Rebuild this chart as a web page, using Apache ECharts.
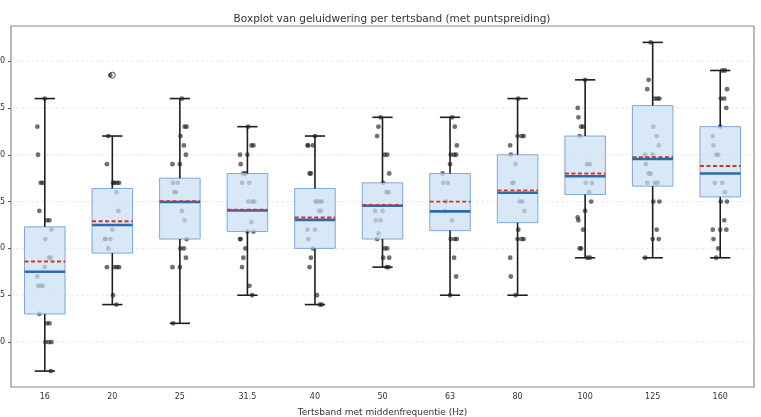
<!DOCTYPE html>
<html><head><meta charset="utf-8">
<script src="https://cdn.jsdelivr.net/npm/echarts@6/dist/echarts.min.js"></script>
<style>html,body{margin:0;padding:0;background:#fff}#c{width:761px;height:417px}</style>
</head><body><div id="c"></div>
<script>
// ---- data ----
const categories = ['16','20','25','31.5','40','50','63','80','100','125','160'];
const whiskerLow  = [6.9, 14.0, 12.0, 15.0, 14.0, 18.0, 15.0, 15.0, 19.0, 19.0, 19.0];
const quartile1   = [13.0, 19.5, 21.0, 21.8, 20.0, 21.0, 21.9, 22.75, 25.75, 26.65, 25.5];
const medians     = [17.5, 22.5, 24.95, 24.05, 23.05, 24.55, 23.95, 25.95, 27.7, 29.55, 28.0];
const quartile3   = [22.3, 26.4, 27.5, 28.0, 26.4, 27.0, 28.0, 30.0, 32.0, 35.25, 33.0];
const whiskerHigh = [36.0, 32.0, 36.0, 33.0, 32.0, 34.0, 34.0, 36.0, 38.0, 42.0, 39.0];
const means       = [18.6, 22.9, 25.05, 24.15, 23.3, 24.65, 25.0, 26.2, 28.0, 29.75, 28.8];
const outlierBand  = ['20'];
const outlierValue = [38.5];

const pts16  = [36, 33, 30, 27, 27, 24, 23, 23, 22, 21, 19, 19, 18, 17, 16, 16, 16, 13, 12, 12, 10, 10, 10, 6.9];
const pts20  = [38.5, 32, 29, 27, 27, 27, 27, 26, 24, 22, 21, 21, 21, 20, 18, 18, 18, 18, 15, 14];
const pts25  = [36, 33, 33, 32, 31, 30, 29, 29, 27, 27, 26, 26, 24, 23, 21, 20, 20, 19, 18, 18, 12];
const pts315 = [33, 31, 31, 30, 30, 29, 28, 28, 27, 27, 25, 25, 25, 22.8, 21.8, 21.8, 21, 21, 20, 19, 18, 16, 15];
const pts40  = [32, 31, 31, 31, 28, 28, 25, 25, 25, 25, 24, 24, 22, 22, 21, 20, 19, 18, 15, 14, 14];
const pts50  = [34, 33, 32, 30, 30, 28, 27, 26, 26, 24, 24, 23, 23, 21.6, 21, 20, 20, 19, 19, 18, 18];
const pts63  = [34, 33, 31, 30, 30, 30, 29, 28, 27, 27, 25, 24, 23, 21, 21, 21, 19, 17, 15];
const pts80  = [36, 32, 32, 32, 31, 30, 29, 27, 27, 25, 25, 24, 22, 21, 21, 21, 19, 17, 15];
const pts100 = [38, 35, 34, 33, 33, 32, 29, 29, 27, 27, 26, 25, 24, 23.3, 23, 22, 20, 20, 19, 19];
const pts125 = [42, 38, 37, 36, 36, 36, 33, 32, 31, 30, 30, 29, 28, 28, 27, 27, 27, 25, 25, 22, 21, 21, 19];
const pts160 = [39, 39, 37, 36, 36, 35, 33, 32, 31, 30, 30, 27, 27, 26, 25, 25, 23, 22, 22, 22, 21, 20, 19];
const pointsByBand = [pts16, pts20, pts25, pts315, pts40, pts50, pts63, pts80, pts100, pts125, pts160];

const yTicks = [10, 15, 20, 25, 30, 35, 40];
const yMin = 5.2, yMax = 43.75;

// ---- build ----
const jitter = [0, -0.08, 0.06, -0.03, 0.1, -0.11, 0.03, 0.09, -0.06, 0.01, -0.1, 0.07];
const pointData = [];
pointsByBand.forEach((arr, ci) => arr.forEach((v, k) => pointData.push([ci, v, k])));
const boxData = categories.map((c, i) => [i, whiskerLow[i], quartile1[i], medians[i], quartile3[i], whiskerHigh[i], means[i]]);
const outlierData = outlierBand.map((b, i) => [b, outlierValue[i]]);
const gridData = yTicks.map(v => [0, v]);

const chart = echarts.init(document.getElementById('c'), null, {renderer: 'canvas'});
const txt = '#333';
const WK = '#1e1e1e';
function bar(x, y, w, h) { return {type: 'rect', shape: {x: x, y: y, width: w, height: h}, style: {fill: WK}}; }
function boxCoords(api) {
  const x = api.value(0);
  return {
    min: api.coord([x, api.value(1)]), q1: api.coord([x, api.value(2)]), med: api.coord([x, api.value(3)]),
    q3: api.coord([x, api.value(4)]), max: api.coord([x, api.value(5)]), mean: api.coord([x, api.value(6)]),
    bw: api.size([1, 0])[0]
  };
}
chart.setOption({
  animation: false,
  backgroundColor: '#fff',
  title: {
    text: 'Boxplot van geluidwering per tertsband (met puntspreiding)',
    left: 387, top: 9, textAlign: 'center',
    textStyle: {fontFamily: 'DejaVu Sans', fontSize: 10.5, fontWeight: 'normal', color: txt}
  },
  grid: {left: 11, right: 7, top: 26, bottom: 30, containLabel: false, outerBoundsMode: 'none',
         show: true, borderColor: '#8a8a8a', borderWidth: 1.2, backgroundColor: 'transparent'},
  xAxis: {
    type: 'category', data: categories, boundaryGap: true,
    name: 'Tertsband met middenfrequentie (Hz)', nameLocation: 'middle', nameGap: 21,
    nameTextStyle: {fontFamily: 'DejaVu Sans', fontSize: 9, color: txt},
    axisLine: {show: false},
    axisTick: {alignWithLabel: true, length: 3, lineStyle: {color: '#555'}},
    axisLabel: {fontFamily: 'DejaVu Sans', fontSize: 8, color: txt, margin: 6},
    splitLine: {show: false}
  },
  yAxis: {
    type: 'value', min: yMin, max: yMax,
    axisLine: {show: false},
    axisTick: {show: true, length: 3, customValues: yTicks, lineStyle: {color: '#555'}},
    axisLabel: {fontFamily: 'DejaVu Sans', fontSize: 8, color: txt, margin: 6, customValues: yTicks},
    splitLine: {show: false}
  },
  series: [
    {
      type: 'custom', name: 'grid', z: 0, silent: true,
      encode: {x: 0, y: 1},
      data: gridData,
      renderItem: function (params, api) {
        const c = api.coord([0, api.value(1)]);
        const cs = params.coordSys;
        return {type: 'line', shape: {x1: cs.x, y1: c[1], x2: cs.x + cs.width, y2: c[1]},
                style: {stroke: '#e4e4e4', lineWidth: 0.8, lineDash: [3, 2], fill: null}};
      }
    },
    {
      type: 'custom', name: 'points', z: 2,
      encode: {x: 0, y: 1},
      data: pointData,
      renderItem: function (params, api) {
        const ci = api.value(0);
        const c = api.coord([ci, api.value(1)]);
        const bw = api.size([1, 0])[0];
        const k = api.value(2);
        const dx = jitter[(k * 5 + ci * 3) % jitter.length] * bw;
        return {type: 'circle', shape: {cx: c[0] + dx, cy: c[1], r: 2.4}, style: {fill: 'rgba(25,25,25,0.62)'}};
      }
    },
    {
      type: 'custom', name: 'box', z: 3,
      encode: {x: 0, y: [1, 2, 3, 4, 5, 6]},
      data: boxData,
      renderItem: function (params, api) {
        const p = boxCoords(api);
        const hw = p.bw * 0.3, cx = p.min[0];
        return {
          type: 'group',
          children: [
            {type: 'rect', shape: {x: cx - hw, y: p.q3[1], width: 2 * hw, height: p.q1[1] - p.q3[1]},
             style: {fill: 'rgba(203,223,243,0.72)', stroke: '#7fa7db', lineWidth: 1}},
            {type: 'rect', shape: {x: cx - hw, y: p.med[1] - 1.3, width: 2 * hw, height: 2.6}, style: {fill: '#2f6aa8'}},
            {type: 'line', shape: {x1: cx - hw, y1: p.mean[1], x2: cx + hw, y2: p.mean[1]},
             style: {stroke: '#d9302c', lineWidth: 1.8, lineDash: [4, 2.5], fill: null}}
          ]
        };
      }
    },
    {
      type: 'custom', name: 'whiskers', z: 4,
      encode: {x: 0, y: [1, 2, 3, 4, 5, 6]},
      data: boxData,
      renderItem: function (params, api) {
        const p = boxCoords(api);
        const cw = p.bw * 0.15, lw = 1.6, cx = p.min[0];
        return {
          type: 'group',
          children: [
            bar(cx - lw / 2, p.max[1], lw, p.q3[1] - p.max[1]),
            bar(cx - lw / 2, p.q1[1], lw, p.min[1] - p.q1[1]),
            bar(cx - cw, p.max[1] - lw / 2, 2 * cw, lw),
            bar(cx - cw, p.min[1] - lw / 2, 2 * cw, lw)
          ]
        };
      }
    },
    {
      type: 'scatter', name: 'outliers', z: 5,
      data: outlierData,
      symbol: 'circle', symbolSize: 6,
      itemStyle: {color: 'rgba(0,0,0,0)', borderColor: '#222', borderWidth: 1}
    }
  ]
});
</script></body></html>
